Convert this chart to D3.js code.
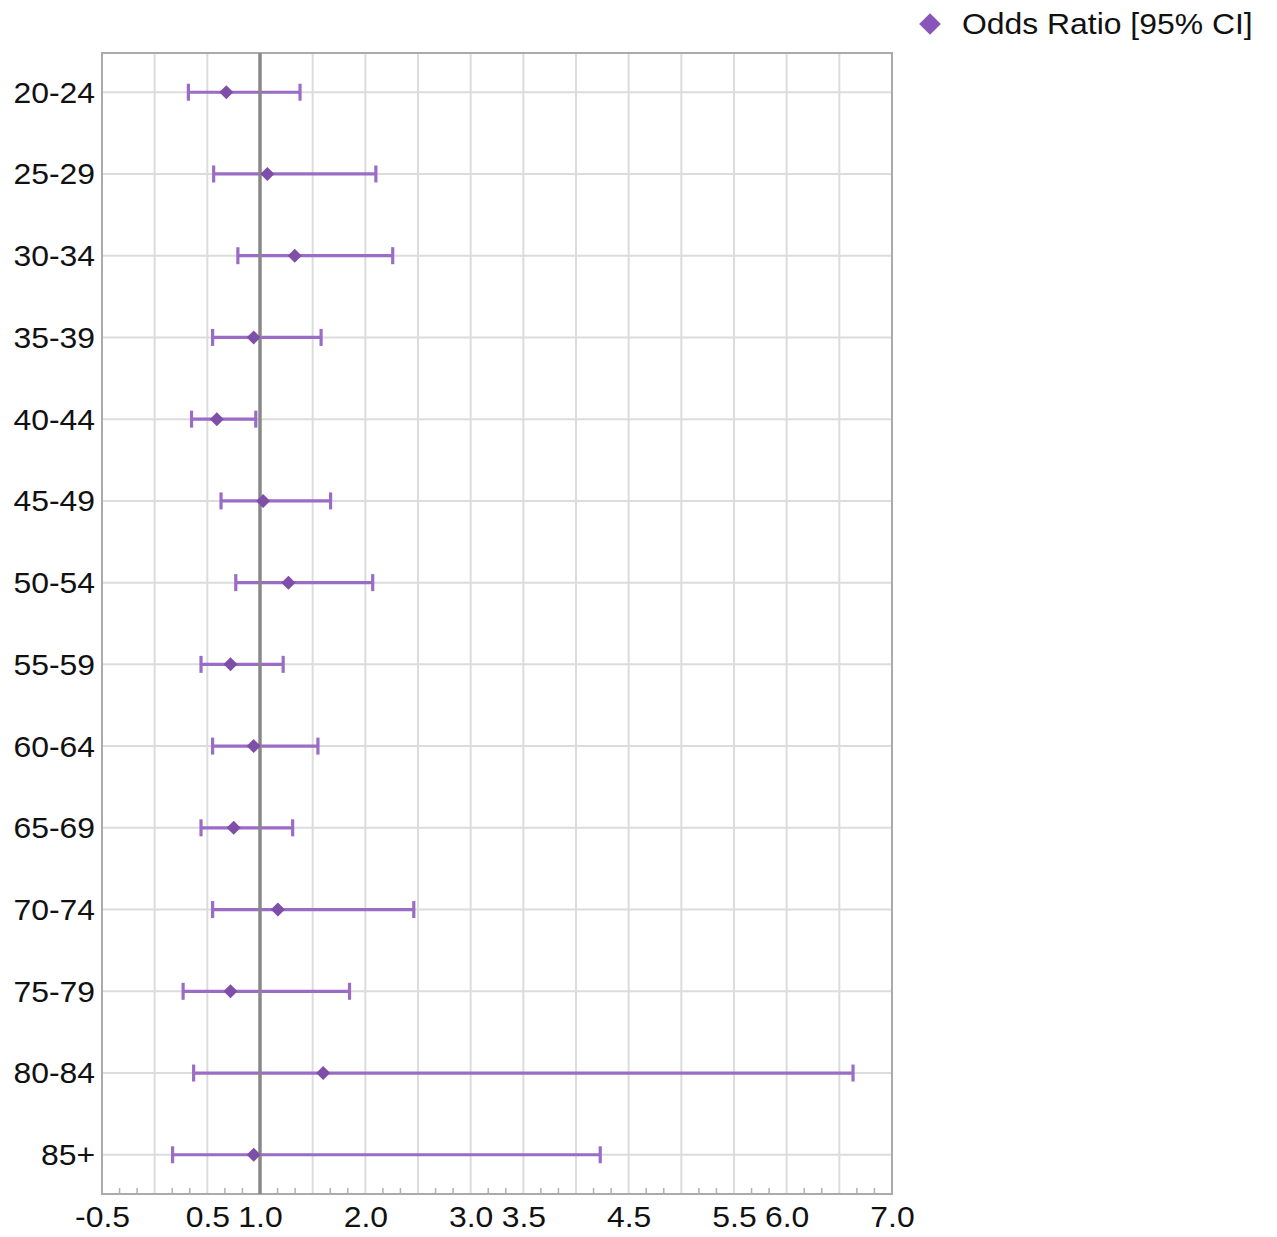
<!DOCTYPE html>
<html>
<head>
<meta charset="utf-8">
<script src="https://cdn.jsdelivr.net/npm/d3@7"></script>
<style>
  html, body { margin: 0; padding: 0; background: #fff; }
  svg { display: block; }
  text { font-family: "Liberation Sans", Arial, Helvetica, sans-serif; fill: #111; }
</style>
</head>
<body>
<script>
// ---- data ----
const ageGroups = ["20-24","25-29","30-34","35-39","40-44","45-49","50-54","55-59","60-64","65-69","70-74","75-79","80-84","85+"];
const oddsRatio = [0.68, 1.07, 1.33, 0.94, 0.59, 1.03, 1.27, 0.72, 0.94, 0.75, 1.17, 0.72, 1.60, 0.94];
const ciLower   = [0.32, 0.56, 0.79, 0.55, 0.35, 0.63, 0.77, 0.44, 0.55, 0.44, 0.55, 0.27, 0.37, 0.17];
const ciUpper   = [1.38, 2.10, 2.26, 1.58, 0.96, 1.67, 2.07, 1.22, 1.55, 1.31, 2.46, 1.85, 6.63, 4.23];
const xTickLabels = [-0.5, 0.5, 1.0, 2.0, 3.0, 3.5, 4.5, 5.5, 6.0, 7.0];
const xDomain = [-0.5, 7.0];
const referenceValue = 1.0;
const legendLabel = "Odds Ratio [95% CI]";

const W = 1277, H = 1237;
const pL = 102, pR = 892, pT = 53, pB = 1194;
const lineColor = "#9a6cc6", markColor = "#7e4ea9";
const textStretch = "scale(1.1,1)";

const svg = d3.select("body").append("svg").attr("width", W).attr("height", H);

const x = d3.scaleLinear().domain(xDomain).range([pL, pR]);
const y = d3.scalePoint().domain(ageGroups).range([pT, pB]).padding(0.48);

const rows = ageGroups.map((g, i) => ({ g, or: oddsRatio[i], lo: ciLower[i], hi: ciUpper[i] }));

// vertical grid every 0.5
const majorTicks = d3.range(xDomain[0], xDomain[1] + 0.001, 0.5);
svg.append("g").selectAll("line").data(majorTicks).join("line")
  .attr("x1", d => x(d)).attr("x2", d => x(d))
  .attr("y1", pT).attr("y2", pB)
  .attr("stroke", "#dcdcdc").attr("stroke-width", 2);

// horizontal grid at each category
svg.append("g").selectAll("line").data(ageGroups).join("line")
  .attr("x1", pL).attr("x2", pR)
  .attr("y1", d => y(d)).attr("y2", d => y(d))
  .attr("stroke", "#dcdcdc").attr("stroke-width", 2);

// minor ticks (every 1/6)
const minorTicks = d3.range(0, 46).map(k => xDomain[0] + k / 6).filter(v => Math.abs(v * 2 - Math.round(v * 2)) > 1e-6);
svg.append("g").selectAll("line").data(minorTicks).join("line")
  .attr("x1", d => x(d)).attr("x2", d => x(d))
  .attr("y1", pB - 6).attr("y2", pB)
  .attr("stroke", "#b0b0b0").attr("stroke-width", 1.5);

// plot frame
svg.append("rect").attr("x", pL).attr("y", pT)
  .attr("width", pR - pL).attr("height", pB - pT)
  .attr("fill", "none").attr("stroke", "#ababab").attr("stroke-width", 2);

// error bars
const eb = svg.append("g");
eb.selectAll("line.ci").data(rows).join("line").attr("class", "ci")
  .attr("x1", d => x(d.lo)).attr("x2", d => x(d.hi))
  .attr("y1", d => y(d.g)).attr("y2", d => y(d.g))
  .attr("stroke", lineColor).attr("stroke-width", 3.2);
eb.selectAll("line.capL").data(rows).join("line").attr("class", "capL")
  .attr("x1", d => x(d.lo)).attr("x2", d => x(d.lo))
  .attr("y1", d => y(d.g) - 8.5).attr("y2", d => y(d.g) + 8.5)
  .attr("stroke", lineColor).attr("stroke-width", 3.2);
eb.selectAll("line.capR").data(rows).join("line").attr("class", "capR")
  .attr("x1", d => x(d.hi)).attr("x2", d => x(d.hi))
  .attr("y1", d => y(d.g) - 8.5).attr("y2", d => y(d.g) + 8.5)
  .attr("stroke", lineColor).attr("stroke-width", 3.2);

// reference line at 1.0
svg.append("line")
  .attr("x1", x(referenceValue)).attr("x2", x(referenceValue))
  .attr("y1", pT).attr("y2", pB)
  .attr("stroke", "#888").attr("stroke-width", 3.5);

// markers
const diamond = d3.symbol().type(d3.symbolDiamond2).size(125);
svg.append("g").selectAll("path").data(rows).join("path")
  .attr("d", diamond)
  .attr("transform", d => `translate(${x(d.or)},${y(d.g)})`)
  .attr("fill", markColor);

// y labels
svg.append("g").selectAll("text").data(ageGroups).join("text")
  .attr("transform", d => `translate(95,${y(d)}) ${textStretch}`)
  .attr("dy", "0.36em")
  .attr("text-anchor", "end")
  .style("font-size", "29px")
  .text(d => d);

// x axis labels
const xAxis = d3.axisBottom(x).tickValues(xTickLabels).tickSize(0).tickPadding(12)
  .tickFormat(d => d.toFixed(1));
const gx = svg.append("g").attr("transform", `translate(0,${pB})`).call(xAxis);
gx.select(".domain").remove();
gx.selectAll("text").style("font-size", "29px")
  .style("font-family", '"Liberation Sans", Arial, Helvetica, sans-serif')
  .attr("fill", "#111")
  .attr("transform", textStretch);

// legend
const lg = svg.append("g").attr("transform", "translate(930,24)");
lg.append("path").attr("d", d3.symbol().type(d3.symbolDiamond2).size(300)).attr("fill", "#8a55b8");
lg.append("text").attr("transform", `translate(32,0) ${textStretch}`).attr("dy", "0.36em").style("font-size", "29px").text(legendLabel);
</script>
</body>
</html>
